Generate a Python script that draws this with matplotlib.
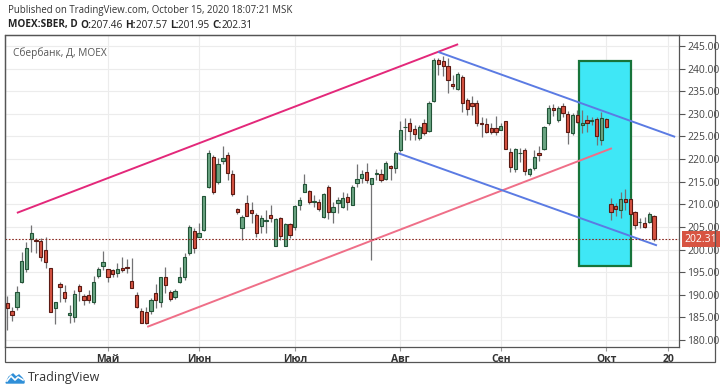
import numpy as np
import matplotlib
matplotlib.use("Agg")
import matplotlib.pyplot as plt
from matplotlib.patches import Rectangle
import matplotlib.transforms as mtransforms

plt.rcParams['font.family'] = ['Open Sans', 'DejaVu Sans']

# daily candles SBER, from early April to 15 Oct 2020
opens = [188.1, 186.5, 187.4, 192.9, 195.8, 202.3, 202.0, 201.9, 199.9, 196.0,
         187.1, 192.4, 190.5, 185.5, 185.0, 191.9, 189.7, 189.9, 188.3, 194.2,
         196.4, 195.7, 195.4, 194.9, 196.0, 196.0, 193.1, 189.9, 186.4, 186.1,
         186.3, 190.3, 188.3, 193.9, 190.7, 189.6, 192.9, 193.9, 199.2, 204.2,
         202.8, 204.3, 213.9, 220.4, 215.0, 219.5, 220.9, 216.8, 208.9, 204.8,
         210.2, 208.7, 207.6, 205.2, 206.4, 207.6, 200.8, 206.9, 200.8, 205.7,
         204.9, 209.8, 212.8, 213.0, 210.6, 210.4, 207.3, 213.9, 208.2, 210.2,
         209.5, 211.6, 209.8, 214.8, 215.8, 217.2, 214.5, 216.7, 216.7, 215.5,
         218.5, 218.0, 222.0, 227.0, 228.0, 226.6, 224.7, 227.9, 226.3, 232.9,
         241.9, 241.7, 240.6, 236.7, 235.6, 238.2, 233.1, 232.3, 232.3, 228.0,
         227.8, 226.8, 226.8, 226.4, 228.4, 221.6, 217.7, 221.3, 222.0, 216.8,
         218.0, 221.3, 222.2, 227.9, 231.4, 228.6, 231.7, 230.0, 225.7, 229.7,
         227.5, 228.6, 228.5, 228.9, 224.3, 228.9, 210.1, 209.6, 208.7, 211.1,
         211.1, 208.2, 206.0, 205.8, 206.0, 207.46]
highs = [189.8, 187.4, 192.0, 199.5, 201.7, 205.4, 202.5, 202.5, 202.7, 196.0,
         188.3, 192.8, 192.2, 187.7, 191.1, 192.3, 190.1, 191.1, 194.2, 196.2,
         199.7, 195.8, 195.8, 197.1, 198.3, 198.0, 198.1, 190.7, 187.0, 187.4,
         189.3, 192.4, 194.0, 196.2, 191.0, 191.2, 196.2, 199.2, 205.4, 204.7,
         205.9, 211.8, 221.9, 220.9, 220.2, 222.9, 221.6, 217.6, 209.2, 207.6,
         212.1, 210.4, 208.0, 207.6, 208.7, 209.8, 206.9, 207.3, 205.9, 205.9,
         209.8, 211.7, 216.7, 213.1, 212.1, 211.2, 212.6, 214.2, 210.6, 211.7,
         212.8, 212.4, 214.2, 218.9, 217.6, 219.1, 215.9, 217.9, 217.9, 219.5,
         218.7, 221.7, 228.4, 229.0, 229.0, 227.5, 227.5, 228.8, 232.8, 242.3,
         242.3, 242.7, 242.3, 238.6, 239.3, 238.6, 233.4, 234.0, 233.0, 229.4,
         229.0, 228.0, 229.6, 228.0, 228.4, 222.4, 222.4, 222.4, 222.4, 218.0,
         222.0, 222.8, 227.4, 231.9, 232.2, 231.7, 232.4, 230.7, 230.2, 230.8,
         230.8, 229.8, 229.4, 229.4, 230.5, 229.1, 211.3, 210.2, 212.8, 213.3,
         211.3, 208.6, 206.9, 207.3, 208.2, 207.57]
lows = [182.2, 184.2, 186.6, 192.6, 195.1, 199.5, 199.2, 197.4, 196.0, 186.1,
        183.6, 188.3, 188.5, 183.7, 184.0, 188.6, 187.7, 188.1, 187.9, 193.6,
        195.5, 192.9, 194.0, 194.0, 195.1, 194.8, 191.4, 187.0, 183.7, 183.5,
        185.8, 187.0, 187.4, 190.3, 188.7, 189.0, 192.7, 193.3, 198.8, 199.2,
        202.8, 204.0, 213.5, 212.2, 214.5, 219.0, 215.4, 211.8, 207.9, 202.2,
        207.5, 205.8, 202.7, 203.6, 203.6, 206.0, 200.8, 202.0, 200.8, 202.5,
        204.3, 208.7, 212.8, 210.0, 209.4, 208.5, 206.9, 206.8, 205.8, 208.0,
        209.2, 208.8, 209.8, 213.9, 214.6, 214.6, 197.7, 215.4, 215.0, 215.4,
        215.4, 216.9, 221.6, 224.3, 224.2, 224.3, 224.3, 225.3, 226.0, 232.7,
        238.6, 238.4, 234.7, 235.6, 235.2, 230.5, 229.7, 229.7, 227.4, 224.8,
        225.7, 225.5, 225.3, 226.4, 222.3, 217.2, 217.2, 219.4, 216.5, 216.3,
        217.6, 219.5, 222.0, 227.5, 229.6, 228.2, 229.4, 223.3, 225.4, 227.9,
        225.7, 226.0, 227.5, 223.1, 223.1, 226.8, 206.5, 207.5, 206.9, 208.8,
        207.9, 204.5, 204.8, 204.8, 205.8, 201.95]
closes = [187.0, 185.6, 190.7, 197.5, 200.3, 203.6, 201.9, 198.3, 197.2, 186.1,
          188.3, 191.7, 189.2, 185.9, 190.1, 190.8, 188.8, 188.8, 192.8, 195.8,
          197.2, 194.0, 194.7, 195.8, 195.5, 195.9, 191.4, 187.4, 183.8, 183.8,
          188.8, 188.8, 193.9, 192.2, 189.0, 190.8, 194.0, 198.4, 204.9, 200.3,
          203.6, 211.8, 221.3, 212.8, 218.9, 220.2, 217.0, 212.3, 208.2, 207.3,
          207.5, 208.0, 203.6, 206.9, 206.4, 207.0, 206.7, 202.9, 205.6, 203.2,
          209.6, 210.9, 214.5, 210.4, 210.6, 208.9, 212.3, 208.2, 209.5, 210.9,
          211.4, 210.6, 213.9, 215.6, 216.7, 215.4, 215.9, 216.7, 215.4, 219.1,
          218.0, 221.3, 226.4, 227.0, 226.2, 225.5, 227.2, 225.7, 232.3, 242.0,
          241.0, 240.6, 237.5, 236.2, 238.9, 232.3, 231.0, 231.7, 227.9, 227.8,
          226.0, 226.0, 226.0, 227.3, 222.3, 218.2, 222.2, 221.3, 217.4, 217.7,
          220.4, 220.8, 227.2, 231.4, 230.8, 231.2, 230.1, 226.0, 229.7, 228.3,
          228.0, 228.0, 228.5, 225.1, 229.0, 227.0, 208.4, 208.9, 211.1, 210.4,
          207.9, 205.4, 206.0, 204.9, 207.8, 202.31]

month_idx = [21, 40, 60, 82, 103, 125, 138]
month_lbl = ['Май', 'Июн', 'Июл', 'Авг', 'Сен', 'Окт', '20']

# drawings: (x index, price)
magenta_line = [(2.0, 208.1), (94.1, 245.4)]
pink_line = [(29.2, 182.9), (126.2, 222.4)]
blue_upper = [(89.9, 243.7), (139.4, 224.9)]
blue_lower = [(81.6, 221.3), (135.6, 200.9)]
box_x = [119.4, 130.2]
box_y = [196.4, 241.7]

last_price = 202.31

W, H = 720, 392
fig = plt.figure(figsize=(W / 100, H / 100), dpi=100)
fig.patch.set_facecolor('white')

# plot area in pixels
L, R, T, B = 5, 679, 35, 347
ax = fig.add_axes([L / W, 1 - B / H, (R - L) / W, (B - T) / H])
ax.set_xlim(-0.48, 140.2)
ax.set_ylim(178.45, 247.43)

ax.set_yticks(np.arange(180, 246, 5))
ax.set_yticklabels(['%.2f' % v for v in np.arange(180, 246, 5)])
ax.yaxis.tick_right()
ax.set_xticks(month_idx)
ax.set_xticklabels(month_lbl)
ax.tick_params(axis='y', length=4, width=0.8, color='#555555', labelsize=7.5,
               labelcolor='#444444', pad=2)
ax.tick_params(axis='x', length=3, width=0.8, color='#999999', labelsize=7.5,
               labelcolor='#333333', pad=2)
for lb in ax.get_xticklabels():
    lb.set_fontweight('bold')
ax.grid(True, color='#ececec', lw=0.8)
ax.set_axisbelow(True)
for sp in ax.spines.values():
    sp.set_color('#555555')
    sp.set_linewidth(0.9)

# cyan box
ax.add_patch(Rectangle((box_x[0], box_y[0]), box_x[1] - box_x[0], box_y[1] - box_y[0],
                       facecolor='#3fe7f6', edgecolor='#17743a', lw=1.6, zorder=2))

# candles
o = np.array(opens); h = np.array(highs); l = np.array(lows); c = np.array(closes)
idx = np.arange(len(o))
up = c >= o
ax.vlines(idx, l, h, color='#737375', lw=0.9, zorder=3)
body_lo = np.minimum(o, c)
body_h = np.maximum(np.abs(c - o), 0.15)
ax.bar(idx[up], body_h[up], bottom=body_lo[up], width=0.68,
       color='#6ba583', edgecolor='#225437', lw=0.8, zorder=4)
ax.bar(idx[~up], body_h[~up], bottom=body_lo[~up], width=0.68,
       color='#d75442', edgecolor='#5b1a13', lw=0.8, zorder=4)

# trend lines
for pts, col in [(magenta_line, '#e3287a'), (pink_line, '#ef6f88'),
                 (blue_upper, '#5b7be3'), (blue_lower, '#5b7be3')]:
    xs, ys = zip(*pts)
    ax.plot(xs, ys, color=col, lw=1.4, zorder=5, solid_capstyle='butt')

# last price line and label
ax.axhline(last_price, color='#8a2a22', lw=0.8, ls=(0, (1.5, 1.5)), zorder=5)
tr = mtransforms.blended_transform_factory(ax.transAxes, ax.transData)
ax.text(1.008, last_price, '%.2f' % last_price, transform=tr, fontsize=7.5,
        color='white', va='center', ha='left', zorder=6, clip_on=False,
        bbox=dict(boxstyle='square,pad=0.25', facecolor='#d75442', edgecolor='none'))

ax.text(0.012, 0.962, 'Сбербанк, Д, MOEX', transform=ax.transAxes, fontsize=7.3,
        color='#555555', va='top', ha='left')

# outer frame around chart + price scale + time scale
fig.add_artist(Rectangle((L / W, 1 - 362 / H), (715 - L) / W, (362 - T) / H,
                         transform=fig.transFigure, fill=False, edgecolor='#555555', lw=0.9))

# header
fig.text(8 / W, 1 - 10 / H, 'Published on TradingView.com, October 15, 2020 18:07:21 MSK',
         fontsize=6.9, color='#333333', va='center', ha='left')
hx = 8
parts = [('MOEX:SBER, D ', 'bold'), ('O:', 'bold'), ('207.46 ', 'normal'),
         ('H:', 'bold'), ('207.57 ', 'normal'), ('L:', 'bold'), ('201.95 ', 'normal'),
         ('C:', 'bold'), ('202.31', 'normal')]
renderer = fig.canvas.get_renderer()
for txt, wt in parts:
    t = fig.text(hx / W, 1 - 25 / H, txt, fontsize=7.2, fontweight=wt,
                 color='#222222', va='center', ha='left')
    bb = t.get_window_extent(renderer=renderer)
    hx += bb.width

# footer logo
fig.text(28 / W, 1 - 378 / H, 'TradingView', fontsize=9, color='#333333',
         va='center', ha='left')
lg = fig.add_axes([5 / W, 1 - 385 / H, 20 / W, 14 / H])
lg.axis('off')
lg.set_xlim(0, 20); lg.set_ylim(0, 14)
lg.fill([1, 4, 8, 11, 14, 17, 19, 19, 1], [2, 8, 11, 8, 10, 7, 4, 2, 2], color='#2f8fd8')
lg.plot([2, 6, 10, 13, 18], [4, 9, 5, 8, 5], color='white', lw=1.2)

fig.savefig('out.png', dpi=100)
